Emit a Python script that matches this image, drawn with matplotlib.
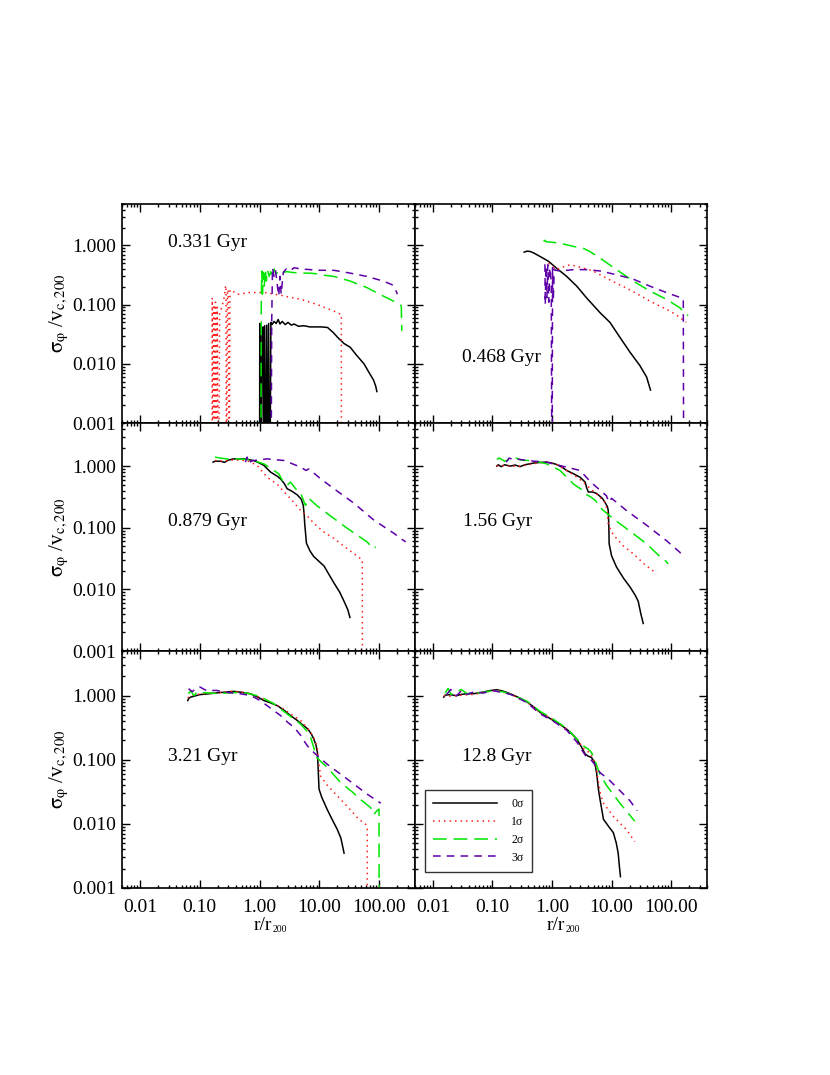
import numpy as np
import matplotlib
matplotlib.use("Agg")
import matplotlib.pyplot as plt
from matplotlib.ticker import FixedLocator, LogLocator, FuncFormatter, NullFormatter

plt.rcParams['font.family'] = ['Liberation Serif', 'DejaVu Serif']
plt.rcParams['mathtext.fontset'] = 'stix'

LOW = 1e-5  # values below the axis floor (log of zero in the original)

# ---- panel labels ----
times = ['0.331 Gyr', '0.468 Gyr', '0.879 Gyr', '1.56 Gyr', '3.21 Gyr', '12.8 Gyr']
sigma_labels = ['0σ', '1σ', '2σ', '3σ']

# ---- 0.331 Gyr ----
r_a0 = [1.00, 1.01, 1.05, 1.10, 1.15, 1.18, 1.22, 1.27, 1.32, 1.36, 1.42, 1.48, 1.55, 1.62, 1.75, 1.9,
        2.05, 2.2, 2.4, 2.7, 3.0, 3.4, 3.8, 4.5, 5.5, 7.0, 9.0, 11.0, 13.8, 17.0, 20.3, 26.0, 33.0,
        42.0, 56.0, 70.0, 81.0, 88.0, 92.0]
v_a0 = [LOW, 0.048, LOW, 0.040, 0.042, LOW, 0.044, LOW, 0.045, LOW, 0.048, LOW, 0.050, 0.046, 0.052,
        0.048, 0.056, 0.047, 0.052, 0.046, 0.050, 0.045, 0.047, 0.043, 0.044, 0.042, 0.042, 0.042,
        0.041, 0.034, 0.028, 0.022, 0.019, 0.014, 0.010, 0.0068, 0.0053, 0.0042, 0.0034]
r_a1 = [0.160, 0.162, 0.168, 0.172, 0.178, 0.183, 0.190, 0.196, 0.205, 0.215, 0.225, 0.240, 0.255,
        0.270, 0.275, 0.280, 0.290, 0.300, 0.310, 0.320, 0.340, 0.380, 0.420, 0.50, 0.60, 0.80, 1.0,
        1.35, 1.7, 2.2, 3.0, 4.9, 9.3, 17.4, 23.4, 23.5]
v_a1 = [LOW, 0.13, LOW, 0.10, LOW, 0.11, LOW, 0.09, LOW, 0.07, 0.08, 0.10, 0.13, 0.20, 0.21, LOW, 0.16,
        0.18, LOW, 0.17, 0.18, 0.16, 0.15, 0.15, 0.16, 0.16, 0.16, 0.159, 0.15, 0.145, 0.135, 0.123,
        0.10, 0.078, 0.068, LOW]
r_a2 = [1.05, 1.07, 1.09, 1.12, 1.16, 1.20, 1.25, 1.30, 1.36, 1.45, 1.55, 1.65, 1.75, 1.9, 2.1, 2.4,
        2.9, 3.5, 4.9, 7.0, 9.3, 13.0, 17.4, 25.0, 33.0, 45.0, 62.0, 85.0, 117.0, 160.0, 221.0, 236.0,
        240.0]
v_a2 = [LOW, 0.10, 0.37, 0.15, 0.35, 0.20, 0.40, 0.25, 0.38, 0.30, 0.36, 0.28, 0.40, 0.33, 0.38, 0.35,
        0.36, 0.35, 0.34, 0.34, 0.33, 0.31, 0.30, 0.27, 0.25, 0.22, 0.195, 0.165, 0.14, 0.12, 0.10,
        0.095, 0.036]
r_a3 = [1.55, 1.60, 1.65, 1.75, 1.85, 2.0, 2.1, 2.2, 2.3, 2.5, 2.8, 3.2, 3.8, 4.9, 7.0, 9.3, 17.4,
        33.0, 62.0, 117.0, 160.0, 178.0, 203.0]
v_a3 = [LOW, 0.05, 0.42, 0.30, 0.38, 0.20, 0.14, 0.30, 0.15, 0.35, 0.40, 0.37, 0.42, 0.40, 0.39, 0.38,
        0.38, 0.34, 0.30, 0.25, 0.22, 0.206, 0.15]

# ---- 0.468 Gyr ----
r_b0 = [0.34, 0.38, 0.43, 0.50, 0.63, 0.87, 1.2, 1.76, 2.6, 3.8, 6.4, 9.4, 13.8, 20.3, 29.7, 38.7, 45.0]
v_b0 = [0.77, 0.80, 0.79, 0.74, 0.65, 0.54, 0.41, 0.30, 0.205, 0.13, 0.073, 0.050, 0.028, 0.0158,
        0.0094, 0.0060, 0.0036]
r_b1 = [0.87, 0.95, 1.05, 1.2, 1.36, 1.6, 2.0, 2.5, 2.9, 3.8, 4.9, 6.4, 8.2, 12.0, 17.8, 26.0, 38.7,
        57.0, 83.0, 120.0, 180.0]
v_b1 = [0.50, 0.46, 0.43, 0.40, 0.41, 0.44, 0.47, 0.45, 0.43, 0.40, 0.37, 0.32, 0.28, 0.23, 0.19,
        0.155, 0.123, 0.10, 0.084, 0.068, 0.050]
r_b2 = [0.72, 0.76, 0.80, 0.93, 1.36, 2.3, 3.3, 4.3, 6.4, 9.0, 12.1, 23.0, 44.0, 83.0, 139.0, 193.0]
v_b2 = [1.17, 1.22, 1.15, 1.14, 1.09, 0.96, 0.90, 0.79, 0.61, 0.48, 0.39, 0.25, 0.17, 0.123, 0.089,
        0.065]
r_b3 = [0.76, 0.77, 0.79, 0.82, 0.85, 0.88, 0.92, 0.97, 1.0, 1.02, 1.05, 1.09, 1.15, 1.36, 1.8, 2.3,
        3.8, 6.4, 12.0, 23.0, 44.0, 83.0, 148.0, 160.0, 163.0]
v_b3 = [0.48, 0.10, 0.45, 0.13, 0.47, 0.11, 0.42, 0.25, LOW, 0.42, 0.12, 0.40, 0.38, 0.37, 0.38, 0.39,
        0.39, 0.37, 0.32, 0.27, 0.205, 0.16, 0.13, 0.125, LOW]

# ---- 0.879 Gyr ----
r_c0 = [0.167, 0.18, 0.22, 0.26, 0.30, 0.37, 0.55, 0.80, 1.0, 1.18, 1.53, 2.0, 2.25, 2.6, 2.9, 3.5,
        4.3, 5.0, 5.4, 5.6, 5.7, 6.1, 7.0, 8.1, 12.0, 17.6, 22.0, 26.0, 30.0, 32.6]
v_c0 = [1.16, 1.20, 1.20, 1.15, 1.25, 1.31, 1.31, 1.23, 1.12, 1.03, 0.80, 0.68, 0.62, 0.52, 0.43, 0.39,
        0.34, 0.29, 0.23, 0.16, 0.118, 0.056, 0.042, 0.034, 0.024, 0.0127, 0.009, 0.0064, 0.0047,
        0.0035]
r_c1 = [0.18, 0.25, 0.37, 0.62, 0.91, 1.34, 2.0, 2.6, 3.6, 4.9, 6.5, 8.1, 12.0, 17.6, 26.0, 38.0,
        52.5, 53.0]
v_c1 = [1.23, 1.20, 1.26, 1.23, 1.03, 0.66, 0.50, 0.38, 0.27, 0.19, 0.15, 0.118, 0.085, 0.067, 0.050,
        0.038, 0.030, LOW]
r_c2 = [0.18, 0.22, 0.30, 0.40, 0.70, 1.18, 1.74, 2.1, 2.5, 2.9, 3.3, 4.1, 4.9, 5.5, 5.9, 6.7, 9.0,
        13.6, 29.4, 63.0, 80.0, 88.0]
v_c2 = [1.40, 1.35, 1.30, 1.32, 1.27, 1.09, 0.85, 0.75, 0.55, 0.49, 0.55, 0.42, 0.36, 0.27, 0.23, 0.30,
        0.23, 0.17, 0.098, 0.059, 0.046, 0.049]
r_c3 = [0.58, 0.62, 0.66, 0.72, 0.80, 1.34, 2.6, 4.9, 6.0, 6.7, 8.0, 10.6, 17.6, 38.0, 82.0, 178.0,
        240.0, 280.0]
v_c3 = [1.16, 1.40, 1.10, 1.20, 1.23, 1.31, 1.23, 0.96, 0.85, 0.90, 0.78, 0.62, 0.43, 0.25, 0.133,
        0.081, 0.065, 0.059]

# ---- 1.56 Gyr ----
r_d0 = [0.118, 0.125, 0.14, 0.16, 0.20, 0.24, 0.29, 0.35, 0.49, 0.65, 0.81, 1.0, 1.2, 1.5, 1.76, 2.3,
        2.95, 3.6, 3.8, 4.06, 4.8, 5.6, 7.0, 7.7, 8.5, 8.8, 9.0, 9.1, 10.0, 12.1, 16.0, 20.3, 25.0,
        28.0, 31.0, 34.0]
v_d0 = [1.0, 1.05, 0.98, 1.05, 1.0, 1.04, 0.98, 1.05, 1.12, 1.15, 1.16, 1.12, 1.06, 0.95, 0.85, 0.75,
        0.66, 0.55, 0.45, 0.38, 0.38, 0.36, 0.30, 0.26, 0.22, 0.19, 0.10, 0.055, 0.035, 0.023, 0.015,
        0.011, 0.008, 0.0064, 0.004, 0.0028]
r_d1 = [0.118, 0.15, 0.20, 0.30, 0.50, 0.81, 1.2, 1.76, 2.5, 3.35, 4.5, 5.5, 6.4, 8.0, 8.5, 8.8, 10.0,
        12.1, 16.0, 23.0, 35.0, 57.0]
v_d1 = [1.0, 1.02, 1.0, 1.0, 1.10, 1.16, 1.06, 0.85, 0.68, 0.55, 0.42, 0.36, 0.31, 0.25, 0.17, 0.115,
        0.085, 0.067, 0.050, 0.038, 0.026, 0.018]
r_d2 = [0.118, 0.13, 0.16, 0.20, 0.25, 0.30, 0.49, 0.81, 1.36, 1.8, 2.3, 3.1, 3.5, 4.6, 5.5, 6.2, 7.3,
        10.7, 20.3, 38.6, 65.0, 78.0, 89.0]
v_d2 = [1.28, 1.35, 1.20, 1.30, 1.35, 1.25, 1.22, 1.09, 0.85, 0.65, 0.51, 0.42, 0.36, 0.31, 0.27, 0.22,
        0.19, 0.14, 0.088, 0.055, 0.034, 0.030, 0.026]
r_d3 = [0.17, 0.19, 0.22, 0.26, 0.35, 0.50, 0.81, 1.2, 1.76, 2.95, 4.0, 4.9, 6.5, 8.2, 9.0, 10.0, 17.8,
        38.7, 83.0, 140.0, 158.0]
v_d3 = [1.16, 1.35, 1.28, 1.30, 1.25, 1.20, 1.16, 1.05, 0.96, 0.85, 0.62, 0.51, 0.40, 0.33, 0.26, 0.30,
        0.19, 0.11, 0.062, 0.040, 0.034]

# ---- 3.21 Gyr ----
r_e0 = [0.063, 0.065, 0.07, 0.08, 0.10, 0.14, 0.195, 0.28, 0.37, 0.50, 0.71, 1.0, 1.18, 1.5, 1.98, 2.6,
        3.3, 4.3, 5.5, 6.5, 7.4, 8.1, 8.8, 9.3, 9.6, 9.9, 11.0, 13.6, 17.0, 20.0, 23.0, 26.0]
v_e0 = [0.84, 0.90, 0.95, 0.98, 1.04, 1.07, 1.11, 1.14, 1.17, 1.13, 1.07, 0.92, 0.84, 0.78, 0.70, 0.59,
        0.49, 0.41, 0.34, 0.30, 0.25, 0.21, 0.17, 0.13, 0.07, 0.035, 0.026, 0.0167, 0.011, 0.0082,
        0.006, 0.0035]
r_e1 = [0.063, 0.07, 0.10, 0.20, 0.37, 0.60, 1.0, 1.5, 2.3, 3.3, 4.9, 6.0, 7.2, 8.5, 9.3, 9.8, 10.5,
        13.0, 17.6, 25.0, 33.0, 45.0, 60.0, 63.5, 64.0]
v_e1 = [0.92, 1.0, 1.06, 1.12, 1.17, 1.12, 0.95, 0.80, 0.66, 0.52, 0.41, 0.33, 0.27, 0.20, 0.15, 0.09,
        0.056, 0.042, 0.031, 0.022, 0.0167, 0.012, 0.0098, 0.0082, LOW]
r_e2 = [0.065, 0.07, 0.08, 0.09, 0.10, 0.15, 0.20, 0.37, 0.60, 1.0, 1.74, 2.9, 4.9, 5.8, 6.5, 7.2,
        8.0, 9.0, 10.5, 13.6, 22.8, 35.0, 49.0, 72.0, 82.0, 92.0, 100.0, 101.0]
v_e2 = [1.07, 1.20, 1.0, 1.15, 1.12, 1.10, 1.08, 1.12, 1.10, 0.98, 0.75, 0.52, 0.36, 0.30, 0.27, 0.22,
        0.16, 0.11, 0.095, 0.076, 0.044, 0.032, 0.024, 0.018, 0.014, 0.016, 0.017, LOW]
r_e3 = [0.065, 0.075, 0.085, 0.10, 0.13, 0.19, 0.30, 0.45, 0.71, 1.0, 1.34, 2.25, 3.0, 3.8, 4.9, 5.5,
        6.3, 8.1, 13.6, 29.4, 63.5, 107.0]
v_e3 = [1.29, 1.15, 1.30, 1.37, 1.20, 1.21, 1.12, 1.08, 1.01, 0.85, 0.70, 0.49, 0.38, 0.32, 0.24, 0.20,
        0.166, 0.13, 0.085, 0.050, 0.029, 0.021]

# ---- 12.8 Gyr ----
r_f0 = [0.0152, 0.016, 0.0195, 0.025, 0.03, 0.037, 0.05, 0.07, 0.09, 0.118, 0.15, 0.20, 0.28, 0.38,
        0.50, 0.63, 0.80, 1.05, 1.4, 1.76, 2.2, 2.6, 3.1, 3.6, 4.1, 4.6, 5.2, 5.6, 6.0, 6.4, 7.3, 9.0,
        10.7, 12.0, 12.9, 13.5, 14.1]
v_f0 = [0.95, 1.02, 1.04, 1.0, 1.05, 1.07, 1.08, 1.14, 1.20, 1.24, 1.18, 1.07, 0.93, 0.80, 0.66, 0.55,
        0.48, 0.41, 0.35, 0.30, 0.25, 0.21, 0.16, 0.123, 0.113, 0.109, 0.09, 0.063, 0.035, 0.024,
        0.0118, 0.009, 0.0073, 0.005, 0.0035, 0.0022, 0.0015]
r_f1 = [0.0152, 0.02, 0.03, 0.05, 0.09, 0.118, 0.20, 0.38, 0.63, 1.05, 1.76, 2.6, 3.6, 4.3, 5.0, 5.5,
        5.9, 6.5, 7.3, 10.7, 17.8, 24.5]
v_f1 = [1.0, 0.98, 1.02, 1.05, 1.18, 1.22, 1.05, 0.80, 0.55, 0.42, 0.30, 0.21, 0.14, 0.13, 0.10, 0.08,
        0.05, 0.03, 0.021, 0.0131, 0.0081, 0.0053]
r_f2 = [0.016, 0.018, 0.02, 0.025, 0.03, 0.037, 0.05, 0.07, 0.10, 0.15, 0.20, 0.38, 0.63, 1.05, 1.76,
        2.5, 2.95, 3.5, 4.06, 4.6, 5.2, 6.4, 8.2, 13.8, 24.5]
v_f2 = [1.10, 1.30, 1.05, 1.15, 1.25, 1.08, 1.10, 1.12, 1.20, 1.15, 1.05, 0.82, 0.57, 0.43, 0.31, 0.22,
        0.19, 0.16, 0.147, 0.13, 0.10, 0.059, 0.040, 0.021, 0.011]
r_f3 = [0.017, 0.02, 0.025, 0.03, 0.037, 0.05, 0.07, 0.10, 0.15, 0.20, 0.38, 0.63, 1.05, 1.76, 2.6,
        3.2, 3.8, 4.5, 5.2, 6.4, 8.8, 13.8, 20.3, 27.0]
v_f3 = [1.05, 1.25, 1.0, 1.20, 1.05, 1.15, 1.10, 1.20, 1.12, 1.05, 0.78, 0.52, 0.40, 0.29, 0.19, 0.14,
        0.11, 0.10, 0.085, 0.063, 0.050, 0.033, 0.023, 0.016]

panels = [
    [(r_a0, v_a0), (r_a1, v_a1), (r_a2, v_a2), (r_a3, v_a3)],
    [(r_b0, v_b0), (r_b1, v_b1), (r_b2, v_b2), (r_b3, v_b3)],
    [(r_c0, v_c0), (r_c1, v_c1), (r_c2, v_c2), (r_c3, v_c3)],
    [(r_d0, v_d0), (r_d1, v_d1), (r_d2, v_d2), (r_d3, v_d3)],
    [(r_e0, v_e0), (r_e1, v_e1), (r_e2, v_e2), (r_e3, v_e3)],
    [(r_f0, v_f0), (r_f1, v_f1), (r_f2, v_f2), (r_f3, v_f3)],
]

# line styles for 0..3 sigma
colors = ['black', '#ff2020', '#00e600', '#5e00a8']
dash_styles = [None, (1.0, 2.6), (9.0, 4.5), (5.0, 4.0)]

# panel label positions (axes fraction)
label_pos = [(0.157, 0.826), (0.161, 0.297), (0.157, 0.566),
             (0.164, 0.566), (0.157, 0.553), (0.161, 0.553)]

# axes rectangles in figure fraction, rows get slightly taller downwards
col_x = [0.1470, 0.5000]
col_w = [0.3530, 0.3518]
row_y = [0.6065, 0.3944, 0.1740]
row_h = [0.2037, 0.2121, 0.2205]

fig = plt.figure(figsize=(8.3, 10.75), dpi=100)

for i, curves in enumerate(panels):
    row, col = divmod(i, 2)
    ax = fig.add_axes([col_x[col], row_y[row], col_w[col], row_h[row]])
    ax.set_xscale('log')
    ax.set_yscale('log')

    for k, (r, v) in enumerate(curves):
        line, = ax.plot(r, v, color=colors[k], lw=1.1, label=sigma_labels[k])
        if dash_styles[k] is not None:
            line.set_dashes(dash_styles[k])

    ax.set_xlim(0.005, 400)
    ax.set_ylim(0.001, 5)

    ax.xaxis.set_major_locator(FixedLocator([0.01, 0.1, 1, 10, 100]))
    ax.yaxis.set_major_locator(FixedLocator([0.001, 0.01, 0.1, 1]))
    ax.xaxis.set_minor_locator(LogLocator(base=10, subs=np.arange(2, 10), numticks=20))
    ax.yaxis.set_minor_locator(LogLocator(base=10, subs=np.arange(2, 10), numticks=20))
    ax.xaxis.set_minor_formatter(NullFormatter())
    ax.yaxis.set_minor_formatter(NullFormatter())
    ax.xaxis.set_major_formatter(FuncFormatter(lambda x, p: '%.2f' % x))
    ax.yaxis.set_major_formatter(FuncFormatter(lambda y, p: '%.3f' % y))

    ax.tick_params(which='both', direction='in', top=True, right=True, width=1.0)
    ax.tick_params(which='major', length=5.5, labelsize=14, pad=4)
    ax.tick_params(which='minor', length=2.5)
    ax.tick_params(axis='x', which='major', pad=8)
    for s in ax.spines.values():
        s.set_linewidth(1.2)

    if row < 2:
        ax.tick_params(labelbottom=False)
    else:
        # r/r200 with a tiny subscript, as in the original
        ax.text(0.513, -0.16, 'r/r', transform=ax.transAxes, fontsize=14,
                ha='right', va='center')
        ax.text(0.515, -0.175, '200', transform=ax.transAxes, fontsize=7,
                ha='left', va='center')
    if col == 1:
        ax.tick_params(labelleft=False)
    else:
        ax.set_ylabel(r'$\mathrm{σ}_{\mathrm{φ}}$ /v$_{\mathrm{c,200}}$', fontsize=15)
        ax.yaxis.set_label_coords(-0.175, 0.5)

    ax.text(label_pos[i][0], label_pos[i][1], times[i], transform=ax.transAxes,
            fontsize=14, ha='left', va='center')

    if i == 5:
        leg = ax.legend(loc='lower left', bbox_to_anchor=(0.034, 0.068), borderaxespad=0,
                        fontsize=8.5, handlelength=5.4, handletextpad=1.2, labelspacing=0.5,
                        fancybox=False, frameon=True, borderpad=0.7)
        leg.get_frame().set_edgecolor('black')
        leg.get_frame().set_linewidth(1.0)

fig.savefig('out.png', dpi=100)
